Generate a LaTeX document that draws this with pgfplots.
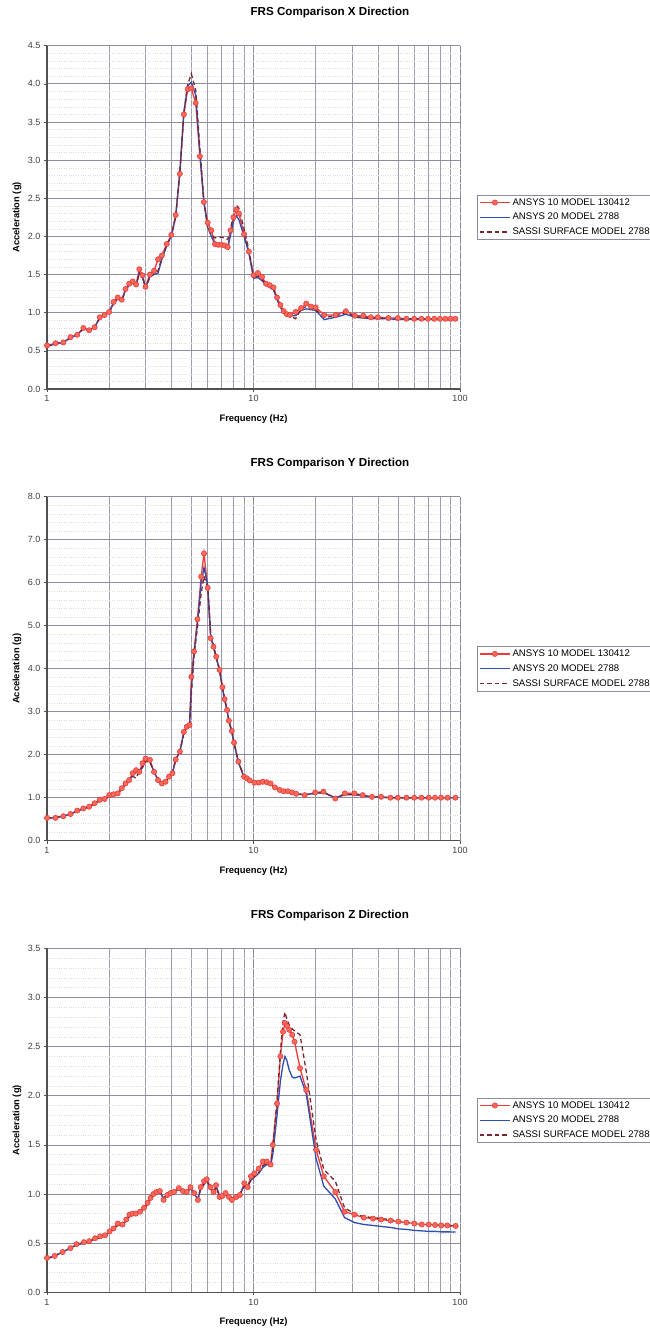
\documentclass[border=0pt]{standalone}
\usepackage{pgfplots}
\pgfplotsset{compat=1.18}
\usepackage{pgfplotstable}
\usepackage{fontspec}
\setmainfont{Liberation Sans}

\definecolor{cRed}{HTML}{EE3A3A}
\definecolor{cRedFill}{HTML}{F26B5B}
\definecolor{cBlue}{HTML}{2E4FB0}
\definecolor{cSassi}{HTML}{7A2630}
\definecolor{cGrid}{HTML}{8C8C9C}
\definecolor{cAxis}{HTML}{505050}

\pgfplotstableread{
f a b c
1.0 0.57 0.56 0.56
1.1 0.60 0.59 0.59
1.2 0.61 0.61 0.61
1.3 0.68 0.67 0.67
1.4 0.71 0.71 0.71
1.5 0.80 0.79 0.79
1.6 0.77 0.77 0.77
1.7 0.81 0.81 0.80
1.8 0.94 0.93 0.93
1.9 0.97 0.96 0.96
2.0 1.01 1.01 1.00
2.1 1.14 1.12 1.12
2.2 1.20 1.18 1.18
2.3 1.17 1.16 1.16
2.4 1.31 1.29 1.29
2.5 1.38 1.36 1.36
2.6 1.41 1.39 1.39
2.7 1.37 1.36 1.35
2.8 1.57 1.52 1.52
2.9 1.49 1.46 1.47
3.0 1.34 1.33 1.32
3.15 1.50 1.47 1.47
3.3 1.55 1.50 1.51
3.45 1.70 1.52 1.55
3.6 1.75 1.70 1.72
3.8 1.90 1.88 1.88
4.0 2.02 2.00 2.00
4.2 2.28 2.26 2.26
4.4 2.82 2.85 2.85
4.6 3.60 3.63 3.62
4.8 3.93 3.97 3.99
5.0 3.94 4.02 4.13
5.25 3.75 3.85 3.92
5.5 3.05 3.10 3.15
5.75 2.45 2.45 2.48
6.0 2.18 2.12 2.12
6.25 2.08 2.00 2.02
6.5 1.90 1.90 1.98
6.75 1.89 1.89 1.99
7.0 1.89 1.88 1.99
7.25 1.88 1.86 1.98
7.5 1.86 1.84 1.96
7.75 2.08 2.02 2.10
8.0 2.25 2.20 2.30
8.25 2.35 2.27 2.41
8.5 2.30 2.22 2.37
9.0 2.03 2.00 2.10
9.5 1.80 1.78 1.82
10 1.49 1.45 1.47
10.5 1.52 1.46 1.48
11 1.47 1.42 1.44
11.5 1.38 1.36 1.37
12 1.36 1.33 1.34
12.5 1.33 1.30 1.31
13 1.20 1.17 1.18
13.5 1.10 1.07 1.08
14 1.02 1.00 1.00
14.5 0.98 0.97 0.97
15 0.97 0.96 0.96
16 1.01 0.96 0.92
17 1.06 1.03 1.05
18 1.12 1.05 1.08
19 1.08 1.04 1.06
20 1.07 1.03 1.04
22 0.97 0.91 0.94
25 0.97 0.94 0.96
28 1.02 0.98 1.00
31 0.96 0.94 0.95
34 0.96 0.93 0.94
37 0.94 0.92 0.93
40 0.94 0.92 0.93
45 0.93 0.92 0.92
50 0.93 0.91 0.92
55 0.92 0.91 0.92
60 0.92 0.91 0.92
65 0.92 0.91 0.92
70 0.92 0.91 0.92
75 0.92 0.91 0.92
80 0.92 0.91 0.92
85 0.92 0.91 0.92
90 0.92 0.91 0.92
95 0.92 0.91 0.92
}\dataX

\pgfplotstableread{
f a b c
1.0 0.53 0.53 0.53
1.1 0.53 0.54 0.54
1.2 0.57 0.57 0.57
1.3 0.62 0.62 0.62
1.4 0.70 0.69 0.69
1.5 0.75 0.74 0.74
1.6 0.79 0.79 0.79
1.7 0.87 0.86 0.86
1.8 0.95 0.93 0.93
1.9 0.97 0.96 0.96
2.0 1.06 1.03 1.03
2.1 1.08 1.07 1.07
2.2 1.10 1.10 1.10
2.3 1.22 1.20 1.20
2.4 1.33 1.31 1.31
2.5 1.41 1.40 1.40
2.6 1.57 1.52 1.50
2.7 1.64 1.58 1.45
2.8 1.60 1.62 1.62
2.9 1.80 1.72 1.70
3.0 1.91 1.86 1.84
3.15 1.88 1.84 1.83
3.3 1.60 1.60 1.60
3.45 1.41 1.41 1.41
3.6 1.33 1.34 1.34
3.75 1.37 1.38 1.38
3.9 1.49 1.48 1.48
4.05 1.57 1.58 1.58
4.2 1.89 1.88 1.88
4.4 2.07 2.08 2.08
4.6 2.53 2.50 2.50
4.75 2.65 2.64 2.64
4.9 2.69 2.70 2.68
5.0 3.81 3.50 3.40
5.15 4.40 4.35 4.30
5.35 5.15 5.05 4.95
5.58 6.14 6.00 5.75
5.76 6.68 6.35 6.15
6.0 5.88 5.95 5.90
6.2 4.71 4.80 4.85
6.4 4.51 4.50 4.55
6.6 4.28 4.25 4.28
6.85 3.97 3.95 3.98
7.07 3.57 3.55 3.58
7.25 3.29 3.27 3.30
7.45 3.04 3.02 3.05
7.6 2.79 2.78 2.80
7.85 2.55 2.52 2.55
8.05 2.28 2.26 2.28
8.45 1.84 1.82 1.84
9.0 1.49 1.47 1.48
9.3 1.45 1.44 1.45
9.6 1.40 1.40 1.40
10.1 1.35 1.35 1.35
10.6 1.35 1.34 1.34
11.1 1.37 1.36 1.36
11.6 1.36 1.35 1.35
12.1 1.33 1.32 1.32
12.7 1.24 1.24 1.24
13.4 1.18 1.17 1.17
14.0 1.15 1.15 1.15
14.7 1.15 1.14 1.14
15.4 1.12 1.12 1.12
16.1 1.09 1.09 1.09
17.7 1.06 1.07 1.07
19.9 1.12 1.10 1.10
21.8 1.14 1.12 1.12
24.9 0.98 1.00 1.00
27.7 1.10 1.07 1.07
30.8 1.10 1.07 1.08
33.8 1.06 1.05 1.05
37.5 1.02 1.02 1.02
41.5 1.02 1.01 1.01
46 1.00 1.00 1.00
50 1.00 1.00 1.00
55 1.00 1.00 1.00
60 1.00 1.00 1.00
65 1.00 1.00 1.00
70.6 1.00 1.00 1.00
75.7 1.00 1.00 1.00
81 1.00 1.00 1.00
87 1.00 1.00 1.00
95 1.00 1.00 1.00
}\dataY

\pgfplotstableread{
f a b c
1.0 0.35 0.34 0.34
1.09 0.37 0.37 0.37
1.19 0.41 0.41 0.41
1.3 0.45 0.45 0.45
1.39 0.49 0.48 0.48
1.51 0.51 0.50 0.50
1.6 0.52 0.52 0.52
1.71 0.55 0.54 0.54
1.81 0.57 0.56 0.56
1.91 0.58 0.58 0.58
2.01 0.62 0.61 0.61
2.1 0.65 0.65 0.65
2.2 0.70 0.68 0.68
2.32 0.69 0.68 0.68
2.42 0.74 0.73 0.73
2.51 0.79 0.77 0.77
2.59 0.80 0.79 0.79
2.69 0.80 0.80 0.80
2.82 0.82 0.82 0.82
2.95 0.86 0.85 0.85
3.07 0.91 0.90 0.90
3.17 0.96 0.95 0.95
3.28 1.00 0.99 0.99
3.39 1.02 1.01 1.01
3.52 1.03 1.02 1.03
3.67 0.94 0.96 0.96
3.83 0.99 0.99 0.99
3.97 1.01 1.01 1.01
4.12 1.02 1.03 1.03
4.35 1.06 1.05 1.05
4.55 1.03 1.03 1.03
4.75 1.02 1.01 1.01
4.95 1.07 1.06 1.06
5.16 1.01 1.00 1.00
5.38 0.94 0.95 0.95
5.55 1.07 1.05 1.05
5.76 1.13 1.10 1.10
5.94 1.15 1.14 1.14
6.19 1.07 1.05 1.05
6.41 1.02 1.02 1.02
6.59 1.09 1.08 1.07
6.85 0.97 0.98 0.98
7.07 0.98 0.99 0.99
7.33 1.01 1.00 1.00
7.61 0.97 0.97 0.97
7.86 0.94 0.95 0.95
8.25 0.97 0.98 0.98
8.59 0.99 1.00 1.00
9.03 1.11 1.08 1.08
9.37 1.07 1.08 1.08
9.72 1.18 1.14 1.14
10.1 1.21 1.17 1.18
10.6 1.26 1.21 1.22
11.1 1.33 1.27 1.29
11.6 1.33 1.30 1.31
12.1 1.30 1.29 1.30
12.4 1.50 1.40 1.48
13.0 1.92 1.80 1.95
13.5 2.40 2.15 2.45
13.9 2.65 2.32 2.75
14.2 2.74 2.40 2.85
14.5 2.71 2.36 2.78
14.9 2.67 2.26 2.72
15.4 2.62 2.19 2.68
15.8 2.55 2.18 2.66
16.8 2.28 2.20 2.62
18.0 2.06 2.02 2.25
20.1 1.45 1.36 1.55
21.9 1.18 1.08 1.25
24.9 1.02 0.95 1.13
27.6 0.82 0.76 0.86
30.8 0.79 0.71 0.80
34.2 0.76 0.69 0.77
37.9 0.75 0.68 0.76
41.5 0.74 0.67 0.75
46.1 0.73 0.66 0.74
50.3 0.72 0.645 0.72
55 0.71 0.64 0.71
60.1 0.70 0.63 0.70
65.3 0.69 0.625 0.695
70.6 0.69 0.62 0.69
75.7 0.685 0.62 0.685
81.1 0.68 0.615 0.68
86.9 0.68 0.615 0.68
95.3 0.675 0.613 0.675
}\dataZ

\pgfkeys{/pgf/number format/assume math mode=true}
\pgfplotsset{
  every axis/.append style={
    scale only axis, width=413pt,
    xmin=1, xmax=100, ymin=0,
    xtick={1,10,100}, xticklabels={1,10,100},
    minor xtick={2,3,4,5,6,7,8,9,20,30,40,50,60,70,80,90},
    grid=both,
    major x grid style={cGrid, line width=0.7pt},
    minor x grid style={cGrid!85, line width=0.5pt},
    major y grid style={cGrid, line width=0.7pt},
    minor y grid style={cGrid!30, line width=0.4pt, dotted},
    minor y tick num=4,
    axis line style={cAxis, line width=1.2pt},
    tick align=outside, major tick length=3pt, minor tick length=0pt,
    tick style={cAxis, line width=0.6pt},
    tick label style={font=\fontsize{9}{10}\selectfont, text=black!75},
    title style={at={(0.685,1)}, anchor=center, yshift=27pt, font=\bfseries\fontsize{11.6}{13}\selectfont},
    xlabel style={at={(axis description cs:0.5,-0.0875)}, anchor=center, font=\bfseries\fontsize{9.4}{11}\selectfont},
    ylabel style={at={(axis description cs:-0.0726,0.5)}, anchor=center, font=\bfseries\fontsize{9.3}{11}\selectfont},
    legend style={at={(1.041,0.5)}, anchor=west, draw=cGrid, line width=0.6pt,
      font=\fontsize{9.6}{11}\selectfont, inner xsep=2pt, inner ysep=1.5pt,
      row sep=2.6pt, cells={anchor=west}},
    legend cell align=left,
  },
  sA/.style={cRed, line width=1.3pt, mark=*, mark size=2.6pt, mark options={fill=cRedFill, draw=cRed, line width=0.6pt, solid}},
  sB/.style={cBlue, line width=1.3pt, no marks},
  sC/.style={cSassi, line width=1.3pt, no marks, dash pattern=on 4.5pt off 3pt},
  yfmt/.style={yticklabel style={/pgf/number format/fixed, /pgf/number format/fixed zerofill, /pgf/number format/precision=1}},
}

\begin{document}
\begin{tikzpicture}
\begin{axis}[xmode=log, at={(47pt,943pt)}, anchor=south west, height=343.3pt,
  axis x line*=bottom, axis y line*=left, yfmt,
  ymax=4.5, ytick distance=0.5, title={FRS Comparison X Direction},
  xlabel={Frequency (Hz)}, ylabel={Acceleration (g)},
  legend image code/.code={\draw[mark repeat=2,mark phase=2,#1] plot coordinates {(0pt,0pt) (15pt,0pt) (30pt,0pt)};}]
\addplot[sA] table[x=f, y=a] {\dataX};
\addplot[sB] table[x=f, y=b] {\dataX};
\addplot[sC] table[x=f, y=c] {\dataX};
\legend{ANSYS 10 MODEL 130412, ANSYS 20 MODEL 2788, SASSI SURFACE MODEL 2788}
\end{axis}

\begin{axis}[xmode=log, at={(47pt,491.3pt)}, anchor=south west, height=344pt,
  axis x line*=bottom, axis y line*=left, yfmt,
  ymax=8, ytick distance=1, title={FRS Comparison Y Direction},
  xlabel={Frequency (Hz)}, ylabel={Acceleration (g)},
  legend image code/.code={\draw[mark repeat=2,mark phase=2,#1] plot coordinates {(0pt,0pt) (15pt,0pt) (30pt,0pt)};}]
\addplot[sA] table[x=f, y=a] {\dataY};
\addplot[sB] table[x=f, y=b] {\dataY};
\addplot[sC] table[x=f, y=c] {\dataY};
\legend{ANSYS 10 MODEL 130412, ANSYS 20 MODEL 2788, SASSI SURFACE MODEL 2788}
\end{axis}

\begin{axis}[xmode=log, at={(47pt,39.7pt)}, anchor=south west, height=344pt,
  axis x line*=bottom, axis y line*=left, yfmt,
  ymax=3.5, ytick distance=0.5, title={FRS Comparison Z Direction},
  xlabel={Frequency (Hz)}, ylabel={Acceleration (g)},
  legend image code/.code={\draw[mark repeat=2,mark phase=2,#1] plot coordinates {(0pt,0pt) (15pt,0pt) (30pt,0pt)};}]
\addplot[sA] table[x=f, y=a] {\dataZ};
\addplot[sB] table[x=f, y=b] {\dataZ};
\addplot[sC] table[x=f, y=c] {\dataZ};
\legend{ANSYS 10 MODEL 130412, ANSYS 20 MODEL 2788, SASSI SURFACE MODEL 2788}
\end{axis}

\pgfresetboundingbox
\path[use as bounding box] (0,0) rectangle (649pt,1332pt);
\end{tikzpicture}
\end{document}
